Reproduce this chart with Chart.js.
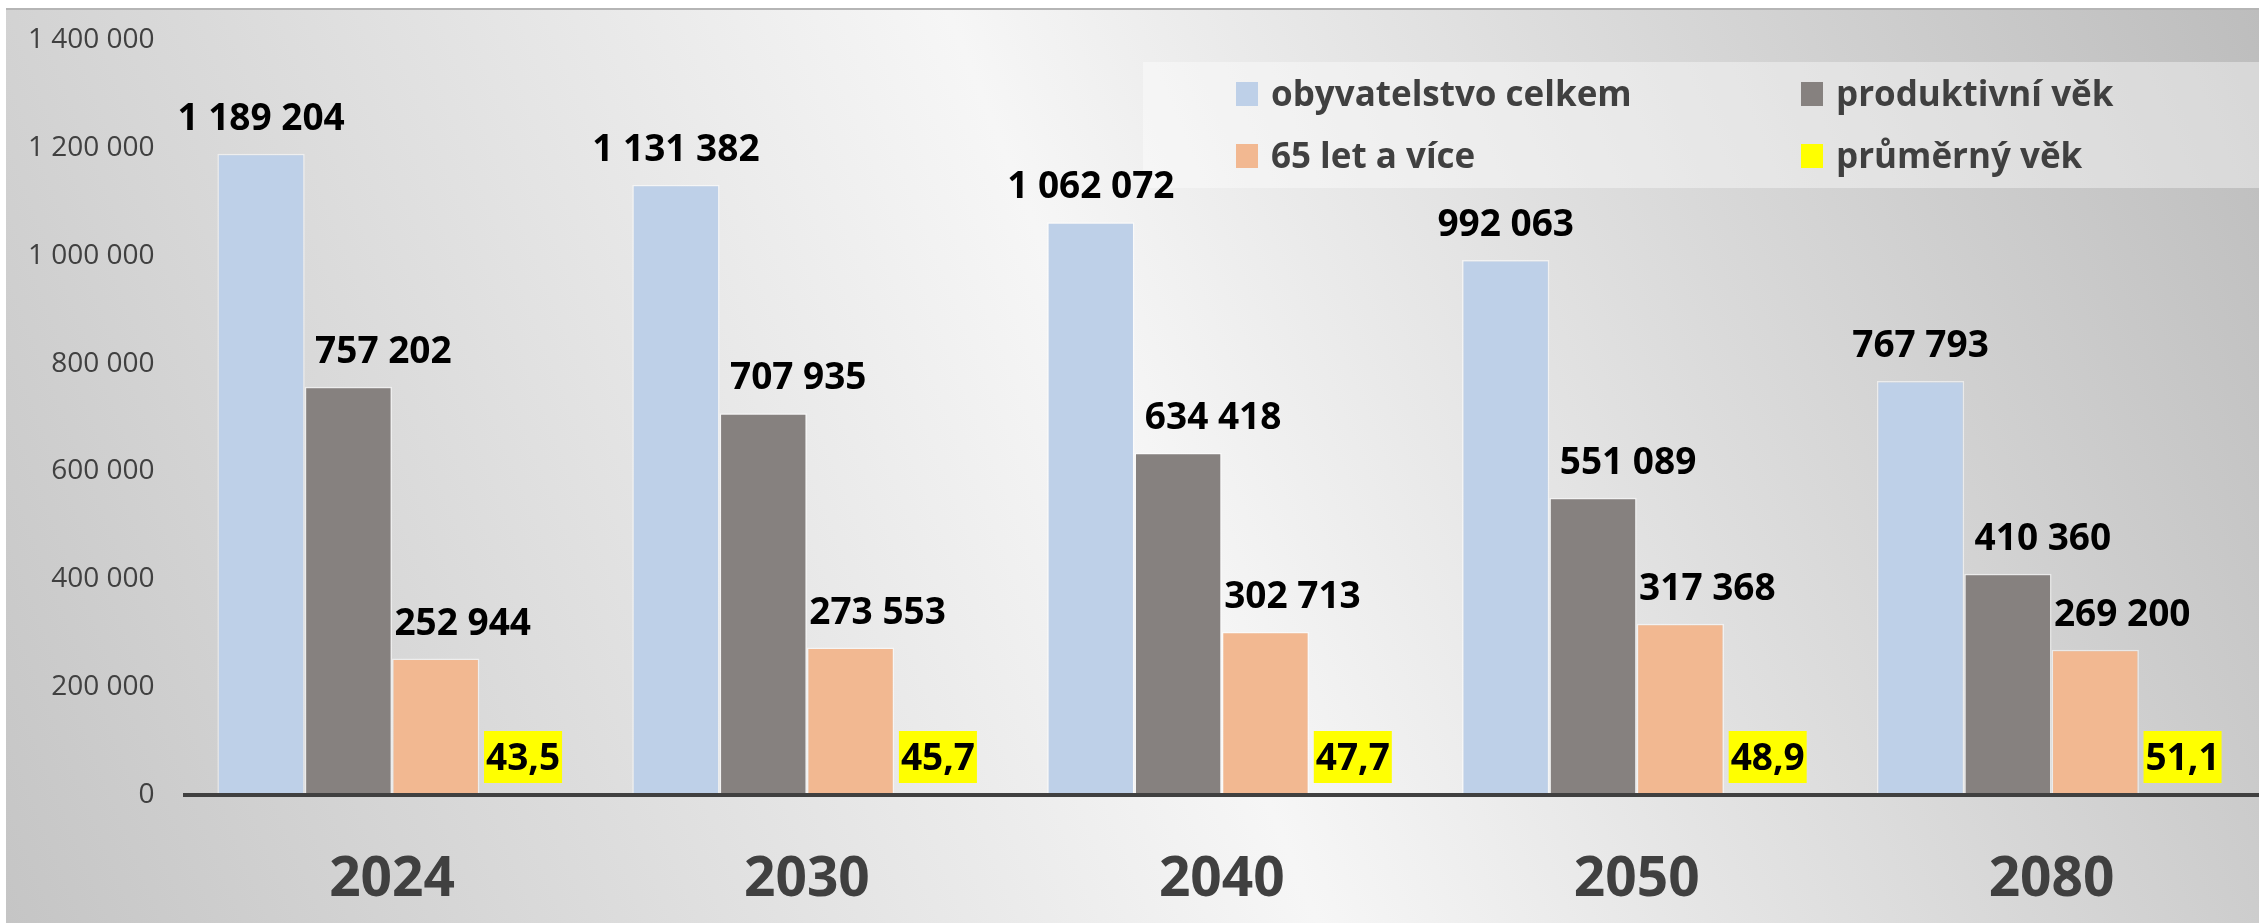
<!DOCTYPE html>
<html><head><meta charset="utf-8">
<script src="https://cdn.jsdelivr.net/npm/chart.js@4.4.0/dist/chart.umd.min.js"></script>
<style>html,body{margin:0;padding:0;background:#fff;}canvas{display:block;}</style>
</head><body>
<canvas id="c" width="2259" height="923" style="width:2259px;height:923px"></canvas>
<script>
const categories = ['2024', '2030', '2040', '2050', '2080'];
const seriesNames = ['obyvatelstvo celkem', 'produktivní věk', '65 let a více', 'průměrný věk'];
const obyvatelstvoCelkem = [1189204, 1131382, 1062072, 992063, 767793];
const produktivniVek = [757202, 707935, 634418, 551089, 410360];
const let65AVice = [252944, 273553, 302713, 317368, 269200];
const prumernyVek = [43.5, 45.7, 47.7, 48.9, 51.1];
const yTickValues = [0, 200000, 400000, 600000, 800000, 1000000, 1200000, 1400000];

const fmtInt = v => String(Math.round(v)).replace(/\B(?=(\d{3})+(?!\d))/g, ' ');
const fmtDec = v => v.toFixed(1).replace('.', ',');

const FONT = '"Open Sans", "Liberation Sans", sans-serif';

const bgPlugin = {
  id: 'bg',
  beforeDraw(chart) {
    const ctx = chart.ctx, W = chart.width, H = chart.height;
    ctx.save();
    ctx.fillStyle = '#ffffff';
    ctx.fillRect(0, 0, W, H);
    const g = ctx.createLinearGradient(6, H, W, 9);
    g.addColorStop(0, '#c5c5c5');
    g.addColorStop(0.5, '#f6f6f6');
    g.addColorStop(1, '#bdbdbd');
    ctx.fillStyle = g;
    ctx.fillRect(6, 9, W - 6, H - 9);
    ctx.fillStyle = '#b5b5b5';
    ctx.fillRect(6, 8, W - 6, 2);
    ctx.restore();
  },
  beforeDatasetsDraw(chart) {
    const ctx = chart.ctx, W = chart.width;
    ctx.save();
    ctx.fillStyle = 'rgba(255,255,255,0.4)';
    ctx.fillRect(1143, 62, W - 1143, 126);
    const cols = [1236, 1801], rows = [106, 168];
    ctx.font = 'bold 35px ' + FONT;
    ctx.textAlign = 'left';
    ctx.textBaseline = 'alphabetic';
    chart.data.datasets.forEach((ds, k) => {
      const x = cols[k % 2], y = rows[Math.floor(k / 2)];
      ctx.fillStyle = ds.backgroundColor;
      ctx.fillRect(x, y - 24, 22, 24);
      ctx.fillStyle = '#404040';
      ctx.fillText(ds.label, x + 35, y);
    });
    ctx.restore();
  }
};

const labelPlugin = {
  id: 'valueLabels',
  afterDatasetsDraw(chart) {
    const ctx = chart.ctx;
    ctx.save();
    const size = 37;
    const dx = [0, 35, 27];
    ctx.font = 'bold ' + size + 'px ' + FONT;
    ctx.textAlign = 'center';
    ctx.textBaseline = 'alphabetic';
    for (let d = 0; d < 3; d++) {
      const meta = chart.getDatasetMeta(d);
      meta.data.forEach((bar, i) => {
        const v = chart.data.datasets[d].data[i];
        const cy = bar.y - 37;
        ctx.fillStyle = '#000000';
        ctx.fillText(fmtInt(v), bar.x + dx[d], cy + 0.357 * size);
      });
    }
    const meta = chart.getDatasetMeta(3);
    meta.data.forEach((bar, i) => {
      const t = fmtDec(chart.data.datasets[3].data[i]);
      const w = ctx.measureText(t).width + 4;
      const cy = bar.base - 38;
      ctx.fillStyle = '#ffff00';
      ctx.fillRect(bar.x - w / 2, cy - 26, w, 52);
      ctx.fillStyle = '#000000';
      ctx.fillText(t, bar.x, cy + 0.357 * size);
    });
    ctx.restore();
  }
};

const colors = ['#bed0e8', '#86817f', '#f2b891', '#ffff00'];
const seriesData = [obyvatelstvoCelkem, produktivniVek, let65AVice, prumernyVek];

new Chart(document.getElementById('c'), {
  type: 'bar',
  data: {
    labels: categories,
    datasets: seriesData.map((arr, k) => ({
      label: seriesNames[k],
      data: arr,
      backgroundColor: colors[k],
      borderColor: 'rgba(255,255,255,0.55)',
      borderWidth: k === 3 ? 0 : 1.5,
      categoryPercentage: 0.842,
      barPercentage: 1.0
    }))
  },
  options: {
    responsive: false,
    animation: false,
    devicePixelRatio: 1,
    layout: { padding: { top: 40, left: 0, right: 0, bottom: 0 } },
    plugins: { legend: { display: false }, tooltip: { enabled: false } },
    scales: {
      x: {
        grid: { display: false, drawTicks: false },
        border: { display: true, color: '#404040', width: 4, z: 1 },
        ticks: { color: '#404040', font: { family: FONT, size: 55, weight: 'bold' }, padding: 52 },
        afterFit(s) { s.height = 128; }
      },
      y: {
        min: 0, max: 1400000,
        grid: { display: false, drawTicks: false },
        border: { display: false },
        afterBuildTicks(s) { s.ticks = yTickValues.map(v => ({ value: v })); },
        ticks: { color: '#404040', font: { family: FONT, size: 28 }, padding: 30, callback: v => fmtInt(v) },
        afterFit(s) { s.width = 184.6; s.paddingTop = 0; s.paddingBottom = 0; }
      }
    }
  },
  plugins: [bgPlugin, labelPlugin]
});
</script>
</body></html>
